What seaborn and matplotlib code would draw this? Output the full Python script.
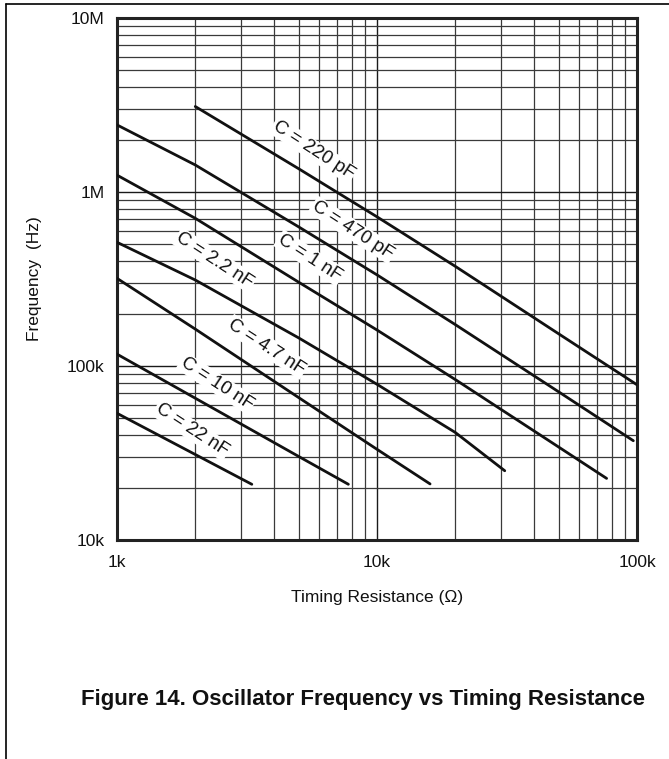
import numpy as np
import pandas as pd
import seaborn as sns
import matplotlib.pyplot as plt
from matplotlib.lines import Line2D
from matplotlib.ticker import FixedLocator, FixedFormatter, LogLocator, NullFormatter

sns.set_style("white")
plt.rcParams['font.family'] = ['Liberation Sans', 'DejaVu Sans']

# curve data (R in ohm, f in Hz)
caps = ["220 pF", "470 pF", "1 nF", "2.2 nF", "4.7 nF", "10 nF", "22 nF"]
r_220p = [2000, 5000, 10000, 20000, 50000, 100000]
f_220p = [3.1e6, 1.36e6, 7.2e5, 3.74e5, 1.53e5, 7.8e4]
r_470p = [1000, 2000, 5000, 10000, 20000, 50000, 96800]
f_470p = [2.43e6, 1.43e6, 6.3e5, 3.34e5, 1.73e5, 7.1e4, 3.72e4]
r_1n = [1000, 2000, 5000, 10000, 20000, 50000, 76400]
f_1n = [1.25e6, 7.06e5, 3.03e5, 1.61e5, 8.36e4, 3.42e4, 2.26e4]
r_2n2 = [1000, 2000, 5000, 10000, 20000, 31000]
f_2n2 = [5.14e5, 3.12e5, 1.45e5, 7.85e4, 4.15e4, 2.5e4]
r_4n7 = [1000, 2000, 5000, 10000, 16000]
f_4n7 = [3.19e5, 1.63e5, 6.58e4, 3.32e4, 2.1e4]
r_10n = [1000, 2000, 5000, 7760]
f_10n = [1.17e5, 6.53e4, 3.02e4, 2.09e4]
r_22n = [1000, 2000, 3300]
f_22n = [5.35e4, 3.1e4, 2.09e4]

# where the "C = ..." labels sit
label_r = [5690, 8090, 5520, 2380, 3770, 2420, 1940]
label_f = [1.74e6, 6.05e5, 4.18e5, 4.06e5, 1.29e5, 7.94e4, 4.29e4]

x_ticks = [1e3, 1e4, 1e5]
x_tick_labels = ["1k", "10k", "100k"]
y_ticks = [1e4, 1e5, 1e6, 1e7]
y_tick_labels = ["10k", "100k", "1M", "10M"]

all_r = [r_220p, r_470p, r_1n, r_2n2, r_4n7, r_10n, r_22n]
all_f = [f_220p, f_470p, f_1n, f_2n2, f_4n7, f_10n, f_22n]
frames = []
for c, r, f in zip(caps, all_r, all_f):
    frames.append(pd.DataFrame({"R": r, "f": f, "C": c}))
df = pd.concat(frames, ignore_index=True)

fig = plt.figure(figsize=(6.69, 7.59), dpi=100)
ax = fig.add_axes([117 / 669, 1 - 540 / 759, 520 / 669, 522 / 759])
ax.set_xscale("log")
ax.set_yscale("log")

sns.lineplot(data=df, x="R", y="f", hue="C", palette=["#111111"] * len(caps),
             estimator=None, sort=False, legend=False, lw=2.0, ax=ax, zorder=4)

ax.set_xlim(1e3, 1e5)
ax.set_ylim(1e4, 1e7)

ax.xaxis.set_major_locator(FixedLocator(x_ticks))
ax.xaxis.set_major_formatter(FixedFormatter(x_tick_labels))
ax.yaxis.set_major_locator(FixedLocator(y_ticks))
ax.yaxis.set_major_formatter(FixedFormatter(y_tick_labels))
ax.xaxis.set_minor_locator(LogLocator(base=10, subs=np.arange(2, 10)))
ax.yaxis.set_minor_locator(LogLocator(base=10, subs=np.arange(2, 10)))
ax.xaxis.set_minor_formatter(NullFormatter())
ax.yaxis.set_minor_formatter(NullFormatter())

ax.set_axisbelow(True)
ax.grid(True, which="major", color="#1a1a1a", lw=1.0)
ax.grid(True, which="minor", color="#3a3a3a", lw=0.9)
ax.tick_params(axis="both", which="both", length=0)
ax.tick_params(axis="x", which="major", pad=11, labelsize=12.5, colors="#111111")
ax.tick_params(axis="y", which="major", pad=9, labelsize=12.5, colors="#111111")

for sp in ax.spines.values():
    sp.set_linewidth(2.2)
    sp.set_color("#222222")

ax.set_xlabel("Timing Resistance (\u03a9)", fontsize=12.5, labelpad=14, color="#111111")
ax.set_ylabel("Frequency  (Hz)", fontsize=12.5, labelpad=18, color="#111111")

for c, lr, lf in zip(caps, label_r, label_f):
    ax.text(lr, lf, f"C = {c}", rotation=-33, ha="center", va="center",
            fontsize=13.5, color="#111111", zorder=3,
            bbox=dict(facecolor="white", edgecolor="none", pad=1.0))

fig.text(645 / 669, 1 - 700 / 759, "Figure 14. Oscillator Frequency vs Timing Resistance",
         ha="right", va="center", fontsize=16, fontweight="bold", color="#111111")

# page frame lines (top and left)
fig.add_artist(Line2D([6 / 669, 6 / 669], [0, 1 - 4 / 759], color="black", lw=1.2))
fig.add_artist(Line2D([6 / 669, 1], [1 - 4 / 759, 1 - 4 / 759], color="black", lw=1.2))

fig.savefig("out.png", dpi=100)
